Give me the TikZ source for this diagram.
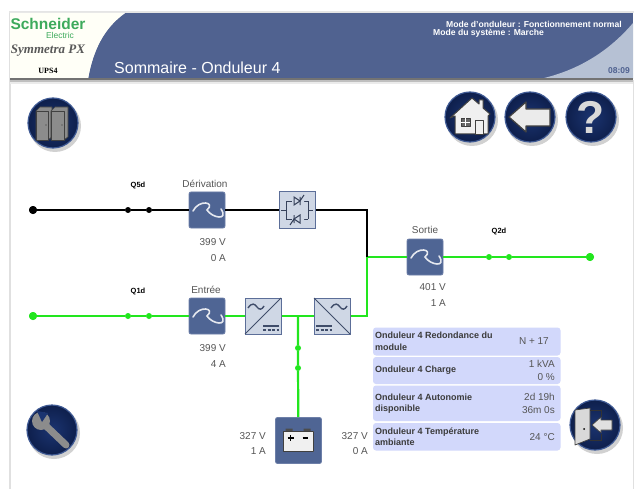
\documentclass[tikz,border=0pt]{standalone}
\usepackage{fontspec}
\setmainfont{Liberation Sans}
\newfontfamily\serifface{Liberation Serif}
\usetikzlibrary{calc}
\definecolor{hdr}{HTML}{506290}
\definecolor{hdrlight}{HTML}{B6C1D4}
\definecolor{boxblue}{HTML}{4F6594}
\definecolor{boxedge}{HTML}{6D7FA8}
\definecolor{convfill}{HTML}{CFD7E5}
\definecolor{convedge}{HTML}{5C6E98}
\definecolor{livegreen}{HTML}{22E61E}
\definecolor{txtgray}{HTML}{555555}
\definecolor{rowblue}{HTML}{D2D8FB}
\definecolor{navy}{HTML}{1B3470}
\definecolor{navydark}{HTML}{0E1F4C}
\definecolor{rim}{HTML}{3F5A94}
\definecolor{iconfill}{HTML}{F0F0F0}
\definecolor{seGreen}{HTML}{3DAA5C}
\newcommand{\fs}[1]{\fontsize{#1}{#1}\selectfont}
\tikzset{
  x=1pt,y=-1pt,
  livewire/.style={draw=livegreen,line width=2.2pt},
  deadwire/.style={draw=black,line width=2pt},
  livedot/.style={circle,fill=livegreen,inner sep=0pt,minimum size=#1},
  deaddot/.style={circle,fill=black,inner sep=0pt,minimum size=#1},
  acbox/.style={draw=boxedge,line width=0.8pt,rounded corners=2pt,fill=boxblue,minimum size=36pt,inner sep=0pt},
  convbox/.style={draw=convedge,line width=1pt,fill=convfill,minimum size=36pt,inner sep=0pt},
  lab/.style={font=\fs{10},text=txtgray,inner sep=0pt},
  vallab/.style={lab,anchor=east},
  qlab/.style={font=\bfseries\fs{7.5},text=black,inner sep=0pt},
  rowbox/.style={fill=rowblue,rounded corners=3pt,draw=none},
  rowtxt/.style={font=\bfseries\fs{9},text=txtgray!70!black,anchor=west,align=left,inner sep=0pt},
  rowval/.style={font=\fs{10},text=txtgray,anchor=east,align=right,inner sep=0pt},
  sinewave/.style={draw=#1,line width=1.6pt,line cap=round},
  glyph/.style={draw=black!75,fill=iconfill,line width=0.7pt,line join=round},
  btnball/.style={circle,inner color=navy,outer color=navydark,draw=rim,line width=1.2pt,minimum size=50pt,inner sep=0pt},
  btnshadow/.style={circle,fill=black,opacity=0.18,minimum size=52pt,inner sep=0pt}
}
\newcommand{\btn}[3]{%
  \node[btnshadow] at (#2+2,#3+3) {};
  \node[btnball] (#1) at (#2,#3) {};
}
\begin{document}
\begin{tikzpicture}
\useasboundingbox (0,0) rectangle (634,489);
\fill[white] (0,0) rectangle (634,489);
% screen edges
\fill[black!12] (9,12) rectangle (10.5,489);
\fill[black!10] (9,11.5) rectangle (634,13);
\fill[black!12] (632.5,80) rectangle (634,489);
% header
\fill[hdr] (10,13) rectangle (633,79);
\fill[black!8,shift={(0,0)}] (10,13) -- (125,13) .. controls (104,28) and (93,50) .. (88,79) -- (10,79) -- cycle;
\fill[white!97!yellow] (10,13) -- (125,13) .. controls (104,28) and (93,50) .. (88,79) -- (10,79) -- cycle;
\fill[hdrlight] (633,23) .. controls (610,50) and (580,70) .. (540,79) -- (633,79) -- cycle;
\fill[black!55] (10,78.5) rectangle (633,80.5);
\fill[black!25] (10,80.5) rectangle (633,82);
\fill[black!8] (10,82) rectangle (633,84);
% logo
\node[font=\bfseries\fs{15.5},text=seGreen,inner sep=0pt] (logoa) at (48,24) {Schneider};
\node[font=\fs{8.5},text=seGreen,inner sep=0pt] (logob) at (60,35) {Electric};
\node[font=\serifface\bfseries\itshape\fs{13},text=black!65,inner sep=0pt] (logoc) at (48,51) {Symmetra PX};
\node[font=\serifface\bfseries\fs{8},text=black,inner sep=0pt] (logod) at (48,71) {UPS4};
\node[font=\fs{16},text=white,anchor=west,inner sep=0pt] (title) at (114,68) {Sommaire - Onduleur 4};
\node[font=\bfseries\fs{8.6},text=white,anchor=east,inner sep=0pt] (modea) at (622,24) {Mode d'onduleur : Fonctionnement normal};
\node[font=\bfseries\fs{8.6},text=white,anchor=west,inner sep=0pt] (modeb) at (433,33) {Mode du système : Marche};
\node[font=\bfseries\fs{8.5},text=hdr,anchor=east,inner sep=0pt] (clock) at (630,71) {08:09};

% nodes of the one-line diagram
\node[acbox] (byp) at (207,210) {};
\node[convbox] (sw) at (297,210) {};
\node[acbox] (inp) at (207,316) {};
\node[convbox] (rect) at (263,316) {};
\node[convbox] (inv) at (332,316) {};
\node[acbox] (out) at (425,257) {};
\node[draw=boxedge,line width=0.8pt,rounded corners=2pt,fill=boxblue,minimum width=46pt,minimum height=46pt,inner sep=0pt] (bat) at (298.5,440.5) {};
\node[deaddot=8pt] (ba) at (33,210) {};
\node[deaddot=6pt] (bb) at (128,210) {};
\node[deaddot=6pt] (bc) at (149,210) {};
\node[livedot=8pt] (ia) at (33,316) {};
\node[livedot=6pt] (ib) at (128,316) {};
\node[livedot=6pt] (ic) at (149,316) {};
\node[livedot=6pt] (oa) at (489,257) {};
\node[livedot=6pt] (ob) at (509,257) {};
\node[livedot=8pt] (oc) at (590,257) {};
\node[livedot=6pt] (da) at (298,348) {};
\node[livedot=6pt] (db) at (298,368) {};
\coordinate (tee) at (298,316);
\coordinate (corner) at (367,210);
\coordinate (join) at (367,257);
\coordinate (low) at (367,316);
% wires
\begin{scope}[on background layer/.style={}]
\draw[livewire] (ia) -- (ib) -- (ic) -- (inp);
\draw[livewire] (inp) -- (rect);
\draw[livewire] (rect) -- (inv);
\draw[livewire] (inv) -- (low) -- (join);
\draw[livewire] (join) -- (out);
\draw[livewire] (out) -- (oa) -- (ob) -- (oc);
\draw[livewire] (tee) -- (da) -- (db) -- (bat);
\draw[deadwire] (ba) -- (bb) -- (bc) -- (byp);
\draw[deadwire] (byp) -- (sw);
\draw[deadwire] (sw) -- (corner) -- (join);
\end{scope}
% redraw to keep dots on top
\node[deaddot=8pt] at (ba) {};
\node[livedot=8pt] at (ia) {};
\node[livedot=8pt] at (oc) {};
% sine icons
\foreach \n in {byp,inp,out}{
  \draw[sinewave=white!85!boxblue] ($(\n)+(-14,1)$) .. controls +(6,-12) and +(9,-8) .. ($(\n)$) .. controls +(5,8) and +(8,12) .. ($(\n)+(14,-1)$);
}
% static switch icon
\begin{scope}[shift={(sw.center)},draw=convedge!60!black,line width=1pt]
  \draw (-16,0) -- (-11,0) (-11,-9) -- (-11,9) (-11,-9) -- (11,-9) (-11,9) -- (11,9) (11,-9) -- (11,9) (11,0) -- (16,0);
  \fill[convfill] (-5,-14) rectangle (7,-4) (-5,4) rectangle (7,14);
  \draw[fill=convfill] (-3,-13) -- (-3,-5) -- (3,-9) -- cycle;
  \draw (3,-13) -- (3,-5) (3,-9) -- (7,-15);
  \draw[fill=convfill] (3,5) -- (3,13) -- (-3,9) -- cycle;
  \draw (-3,5) -- (-3,13) (-3,9) -- (-7,15);
\end{scope}
% converter icons
\begin{scope}[shift={(rect.center)},draw=convedge!70!black]
  \draw[line width=1pt] (-18,18) -- (18,-18);
  \draw[line width=1.4pt] (-15,-8) .. controls (-11,-14) and (-8,-12) .. (-6,-9) .. controls (-4,-6) and (-1,-6) .. (1,-10);
  \draw[line width=1.5pt] (0,10) -- (16,10);
  \draw[line width=1.2pt,dash pattern=on 3pt off 1.5pt] (0,14) -- (16,14);
\end{scope}
\begin{scope}[shift={(inv.center)},draw=convedge!70!black]
  \draw[line width=1pt] (-18,-18) -- (18,18);
  \draw[line width=1.4pt] (-1,-8) .. controls (3,-14) and (6,-12) .. (8,-9) .. controls (10,-6) and (13,-6) .. (15,-10);
  \draw[line width=1.5pt] (-16,10) -- (0,10);
  \draw[line width=1.2pt,dash pattern=on 3pt off 1.5pt] (-16,14) -- (0,14);
\end{scope}
% battery icon
\begin{scope}[shift={(bat.center)}]
  \fill[black!70] (-13,-12) rectangle (-6,-9) (5,-12) rectangle (12,-9);
  \draw[glyph] (-15,-9.5) rectangle (15,11);
  \draw[line width=1.5pt,black] (-11,-2.5) -- (-5,-2.5) (-8,-5.5) -- (-8,0.5);
  \draw[line width=1.5pt,black] (4,-2.5) -- (9,-2.5);
\end{scope}
% labels
\node[qlab] (q5) at (138,186) {Q5d};
\node[qlab] (q1) at (138,292) {Q1d};
\node[qlab] (q2) at (499,232) {Q2d};
\node[lab] (l1) at (205,184) {Dérivation};
\node[lab] (l2) at (206,290) {Entrée};
\node[lab] (l3) at (425,230) {Sortie};
\node[vallab] (v1) at (226,242) {399 V};
\node[vallab] (v2) at (226,258) {0 A};
\node[vallab] (v3) at (226,348) {399 V};
\node[vallab] (v4) at (226,364) {4 A};
\node[vallab] (v5) at (446,287) {401 V};
\node[vallab] (v6) at (446,303) {1 A};
\node[vallab] (v7) at (266,436) {327 V};
\node[vallab] (v8) at (266,451) {1 A};
\node[vallab] (v9) at (368,436) {327 V};
\node[vallab] (v10) at (368,451) {0 A};
% status table
\fill[rowbox] (373,327.5) rectangle (560.5,355.5);
\fill[rowbox] (373,357) rectangle (560.5,384);
\fill[rowbox] (373,385.5) rectangle (560.5,421);
\fill[rowbox] (373,423) rectangle (560.5,450.5);
\node[rowtxt] (r1) at (375,341.5) {Onduleur 4 Redondance du\\[2.5pt]module};
\node[rowval] (r1v) at (549,341.5) {N + 17};
\node[rowtxt] (r2) at (375,370.5) {Onduleur 4 Charge};
\node[rowval] (r2v) at (555,370.5) {1 kVA\\[2.5pt]0 \%};
\node[rowtxt] (r3) at (375,403.5) {Onduleur 4 Autonomie\\[2.5pt]disponible};
\node[rowval] (r3v) at (555,403.5) {2d 19h\\[2.5pt]36m 0s};
\node[rowtxt] (r4) at (375,436.5) {Onduleur 4 Température\\[2.5pt]ambiante};
\node[rowval] (r4v) at (555,437) {24 °C};
% buttons
\btn{bcab}{53}{123}
\btn{bhome}{470}{117}
\btn{bback}{530}{117}
\btn{bhelp}{591}{117}
\btn{btool}{52}{430}
\btn{bexit}{595}{425}
% cabinets
\begin{scope}[shift={(bcab.center)}]
  \draw[glyph,fill=black!45] (-17,-12) -- (-13,-16) -- (-1,-16) -- (-1,14) -- (-5,17) -- (-17,17) -- cycle;
  \draw[glyph,fill=black!45] (-17,-12) rectangle (-5,17);
  \draw[glyph,fill=black!45] (-2,-12) -- (2,-16) -- (15,-16) -- (15,14) -- (11,17) -- (-2,17) -- cycle;
  \draw[glyph,fill=black!45] (-2,-12) rectangle (11,17);
  \fill[black!80] (-7,2) circle (0.7) (9,2) circle (0.7);
\end{scope}
% home
\begin{scope}[shift={(bhome.center)}]
  \draw[glyph,line width=1pt] (-15,-1) -- (-15,17) -- (18,17) -- (18,-1) -- (20,-3) -- (13,-9) -- (13,-17) -- (9,-17) -- (9,-13) -- (2,-19) -- (-20,1) -- cycle;
  \draw[glyph,fill=black!60] (-9,1) rectangle (0,9);
  \draw[white,line width=0.5pt] (-4.5,1) -- (-4.5,9) (-9,5) -- (0,5);
  \draw[glyph] (5,3) rectangle (13,17);
\end{scope}
% back arrow
\begin{scope}[shift={(bback.center)}]
  \draw[glyph,fill=black!8,line width=1.2pt] (-21,0) -- (-4,-15) -- (-4,-8) -- (20,-8) -- (20,9) -- (-4,9) -- (-4,15) -- cycle;
\end{scope}
% help
\node[font=\bfseries\fs{46},text=black!15,inner sep=0pt] (qm) at (bhelp.center) {?};
% wrench
\begin{scope}[shift={(btool.center)}]
  \draw[black!45,line width=7pt,line cap=round] (-8,-6) -- (14,15);
  \fill[black!45] (-11,-9) circle (9pt);
  \fill[navy] (-15,-19) -- (-4,-17) -- (-10,-8) -- cycle;
\end{scope}
% exit
\begin{scope}[shift={(bexit.center)}]
  \draw[glyph,fill=black!15] (-20,-15) -- (-5,-17) -- (-5,14) -- (-20,20) -- cycle;
  \fill[black] (-11,4) circle (1);
  \draw[black!80,line width=0.7pt] (-5,-15) -- (6,-15) -- (6,-8) (6,9) -- (6,15) -- (-5,15);
  \draw[glyph,fill=black!12] (-3,0) -- (6,-8) -- (6,-5) -- (17,-5) -- (17,5) -- (6,5) -- (6,8) -- cycle;
\end{scope}
\end{tikzpicture}
\end{document}
